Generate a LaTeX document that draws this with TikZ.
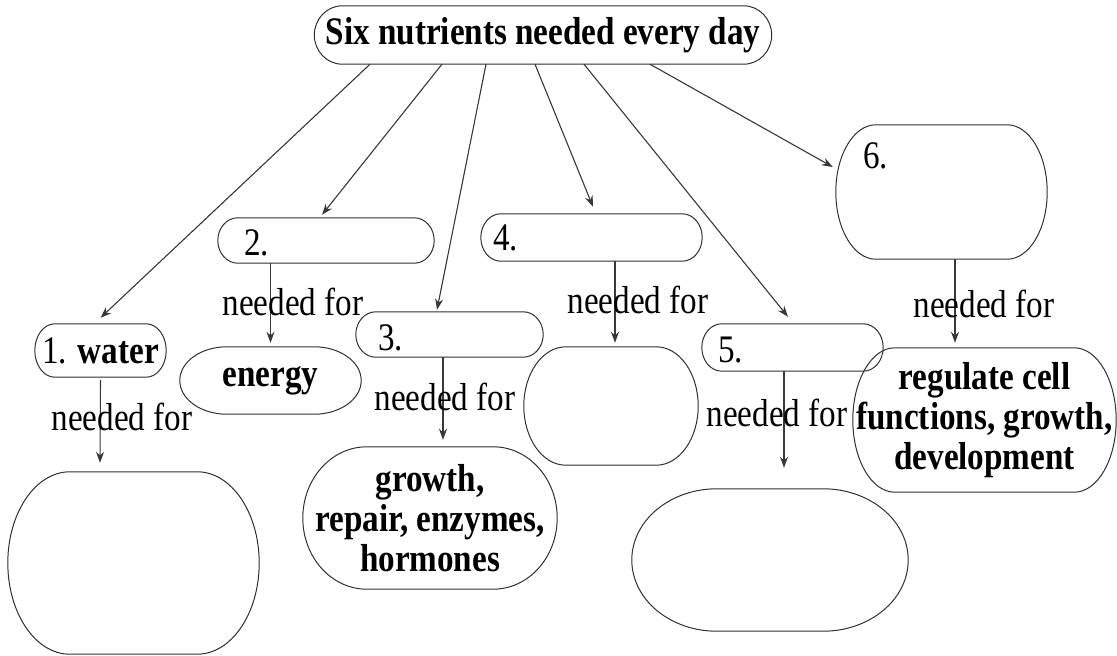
\documentclass[tikz,border=0pt]{standalone}
\usepackage{fontspec}
\setmainfont{Liberation Serif}[FakeStretch=0.85]
\usetikzlibrary{arrows.meta,calc}
\definecolor{linegray}{HTML}{383838}
\definecolor{boxgray}{HTML}{303030}
\newcommand\cmapbox[2]{%
  \draw[outl] let \p1=(#1.north west), \p2=(#1.south east), \n1={(\y1-\y2)/2} in
    (\x1+#2pt,\y1) -- (\x2-#2pt,\y1)
    arc[start angle=90,end angle=-90,x radius=#2pt,y radius=\n1*1pt]
    -- (\x1+#2pt,\y2)
    arc[start angle=270,end angle=90,x radius=#2pt,y radius=\n1*1pt] -- cycle;}
\tikzset{
  box/.style={shape=rectangle, draw=none, inner sep=0pt, align=center},
  outl/.style={draw=boxgray, line width=1pt},
  arr/.style={draw=linegray, line width=1.1pt, -{Stealth[length=11pt,width=8pt]}},
  txt/.style={inner sep=0pt},
  lbl/.style={inner sep=0pt, anchor=base},
  every node/.style={font=\fontsize{39}{40}\selectfont}
}
\begin{document}
\begin{tikzpicture}[x=1pt,y=-1pt]
\useasboundingbox (0,0) rectangle (1117,656);
% nodes
\node[box, minimum width=457pt, minimum height=58pt] (top) at (543,35) {\bfseries Six nutrients needed every day};
\node[box, minimum width=131pt, minimum height=53pt] (n1) at (100.5,350.5) {1. \textbf{water}};
\node[box, minimum width=251pt, minimum height=182pt] (n1b) at (133.5,563) {};
\node[box, minimum width=216pt, minimum height=45pt] (n2) at (326,240.5) {};
\node[box, minimum width=181pt, minimum height=67pt] (en) at (270.5,380.5) {\bfseries energy};
\node[box, minimum width=187pt, minimum height=45pt] (n3) at (449.5,334.5) {};
\node[box, minimum width=254pt, minimum height=142pt] (n3b) at (430,518) {\bfseries growth,\\\bfseries repair, enzymes,\\\bfseries hormones};
\node[box, minimum width=221pt, minimum height=47pt] (n4) at (591.5,237.5) {};
\node[box, minimum width=174pt, minimum height=118pt] (n4b) at (611,406) {};
\node[box, minimum width=181pt, minimum height=47pt] (n5) at (792.5,347.5) {};
\node[box, minimum width=276pt, minimum height=142pt] (n5b) at (770,560) {};
\node[box, minimum width=211pt, minimum height=134pt] (n6) at (941.5,192) {};
\node[box, minimum width=263pt, minimum height=144pt] (n6b) at (984.5,420) {\bfseries regulate cell\\\bfseries functions, growth,\\\bfseries development};
% outlines
\cmapbox{top}{28}
\cmapbox{n1}{20}
\cmapbox{n1b}{62}
\cmapbox{n2}{20}
\cmapbox{en}{47}
\cmapbox{n3}{20}
\cmapbox{n3b}{64}
\cmapbox{n4}{20}
\cmapbox{n4b}{42}
\cmapbox{n5}{20}
\cmapbox{n5b}{85}
\cmapbox{n6}{40}
\cmapbox{n6b}{42}
% numbers
\node[txt, anchor=base west] (t2) at (244,255) {2.};
\node[txt, anchor=base west] (t3) at (378,350) {3.};
\node[txt, anchor=base west] (t4) at (493,250) {4.};
\node[txt, anchor=base west] (t5) at (718,362) {5.};
\node[txt, anchor=base west] (t6) at (863,168) {6.};
% arrows from top
\draw[arr] ([xshift=-173pt]top.south) -- ([yshift=6pt]n1.north);
\draw[arr] ([xshift=-101pt]top.south) -- ([xshift=-4pt,yshift=3pt]n2.north);
\draw[arr] ([xshift=-57pt]top.south) -- ([xshift=-12.5pt,yshift=2pt]n3.north);
\draw[arr] ([xshift=-8pt]top.south) -- ([xshift=1.5pt,yshift=7pt]n4.north);
\draw[arr] ([xshift=41pt]top.south) -- ([xshift=-4.5pt,yshift=7pt]n5.north);
\draw[arr] ([xshift=107pt]top.south) -- ([xshift=-3pt,yshift=25pt]n6.west);
% needed for connectors
\draw[arr] ([yshift=-3pt]n1.south) -- ([xshift=-33.5pt,yshift=9pt]n1b.north);
\draw[arr] (n2.south -| en.north) -- ([yshift=4pt]en.north);
\draw[arr] ([xshift=-6.5pt]n3.south) -- ([xshift=13pt,yshift=7pt]n3b.north);
\draw[arr] ([xshift=23.5pt]n4.south) -- ([xshift=4pt,yshift=4pt]n4b.north);
\draw[arr] ([xshift=-8.5pt]n5.south) -- ([xshift=14pt,yshift=21pt]n5b.north);
\draw[arr] ([xshift=13.5pt]n6.south) -- ([xshift=-29.5pt,yshift=5pt]n6b.north);
% labels
\node[lbl] (l1) at (122,430) {needed for};
\node[lbl] (l2) at (293,315) {needed for};
\node[lbl] (l3) at (445,410) {needed for};
\node[lbl] (l4) at (638,313) {needed for};
\node[lbl] (l5) at (777,426) {needed for};
\node[lbl] (l6) at (984,317) {needed for};
\end{tikzpicture}
\end{document}
